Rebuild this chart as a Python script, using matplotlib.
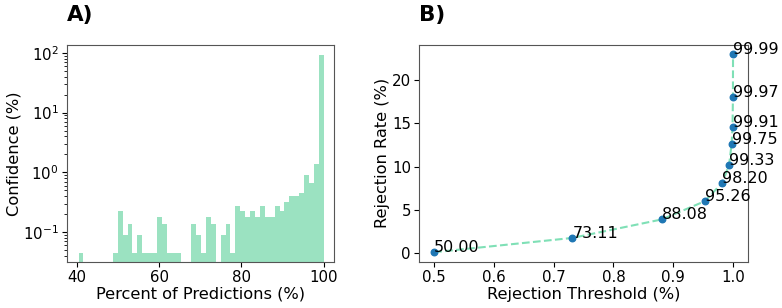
import numpy as np
import matplotlib
matplotlib.use("Agg")
import matplotlib.pyplot as plt

# Panel A: histogram bins (percent of predictions) and heights (confidence %)
bin_start = 40.4
bin_end = 100.0
n_bins = 50
hist_heights = [
    0.045, 0, 0, 0, 0, 0, 0, 0.045, 0.225, 0.09,
    0.135, 0.045, 0.09, 0.045, 0.045, 0.045, 0.18, 0.135, 0.045, 0.045,
    0.045, 0, 0, 0.135, 0.09, 0.045, 0.18, 0.135, 0, 0.09,
    0.135, 0.045, 0.27, 0.225, 0.18, 0.225, 0.18, 0.27, 0.18, 0.18,
    0.27, 0.225, 0.315, 0.405, 0.405, 0.45, 0.90, 0.675, 1.40, 91.1,
]

# Panel B: rejection threshold vs rejection rate
thresholds = [0.5, 0.7311, 0.8808, 0.9526, 0.9820, 0.9933, 0.9975, 0.9991, 0.9997, 0.9999]
rejection_rate = [0.1, 1.75, 3.89, 5.99, 8.13, 10.2, 12.6, 14.6, 17.98, 22.96]
point_labels = ["50.00", "73.11", "88.08", "95.26", "98.20", "99.33",
                "99.75", "99.91", "99.97", "99.99"]

fig = plt.figure(figsize=(7.82, 3.08), dpi=100)
ax1 = fig.add_axes([0.0857, 0.149, 0.3413, 0.7065])
ax2 = fig.add_axes([0.536, 0.149, 0.4205, 0.7065])

edges = np.linspace(bin_start, bin_end, n_bins + 1)
centers = (edges[:-1] + edges[1:]) / 2
ax1.hist(centers, bins=edges, weights=hist_heights, histtype="stepfilled",
         color="#9be2c1")
ax1.set_yscale("log")
ax1.set_ylim(0.0314, 138)
ax1.set_xlim(37.6, 102.5)
ax1.set_xticks([40, 60, 80, 100])
ax1.set_xlabel("Percent of Predictions (%)", fontsize=11.7, labelpad=1)
ax1.set_ylabel("Confidence (%)", fontsize=11.7, labelpad=1)
ax1.tick_params(labelsize=10.8, pad=2.5)
ax1.set_title("A)", loc="left", fontsize=15.5, fontweight="bold", pad=17)

ax2.plot(thresholds, rejection_rate, linestyle="--", color="#7fe0b6", lw=1.5, zorder=2)
ax2.scatter(thresholds, rejection_rate, s=22, color="#1f77b4", zorder=3)
for x, y, lab in zip(thresholds, rejection_rate, point_labels):
    ax2.text(x, y, lab, fontsize=11.5)
ax2.set_xlabel("Rejection Threshold (%)", fontsize=11.7, labelpad=1)
ax2.set_ylabel("Rejection Rate (%)", fontsize=11.7, labelpad=1)
ax2.tick_params(labelsize=10.8, pad=2.5)
ax2.set_title("B)", loc="left", fontsize=15.5, fontweight="bold", pad=17)

for ax in (ax1, ax2):
    for s in ax.spines.values():
        s.set_color("#555555")

fig.savefig("out.png", dpi=100)
